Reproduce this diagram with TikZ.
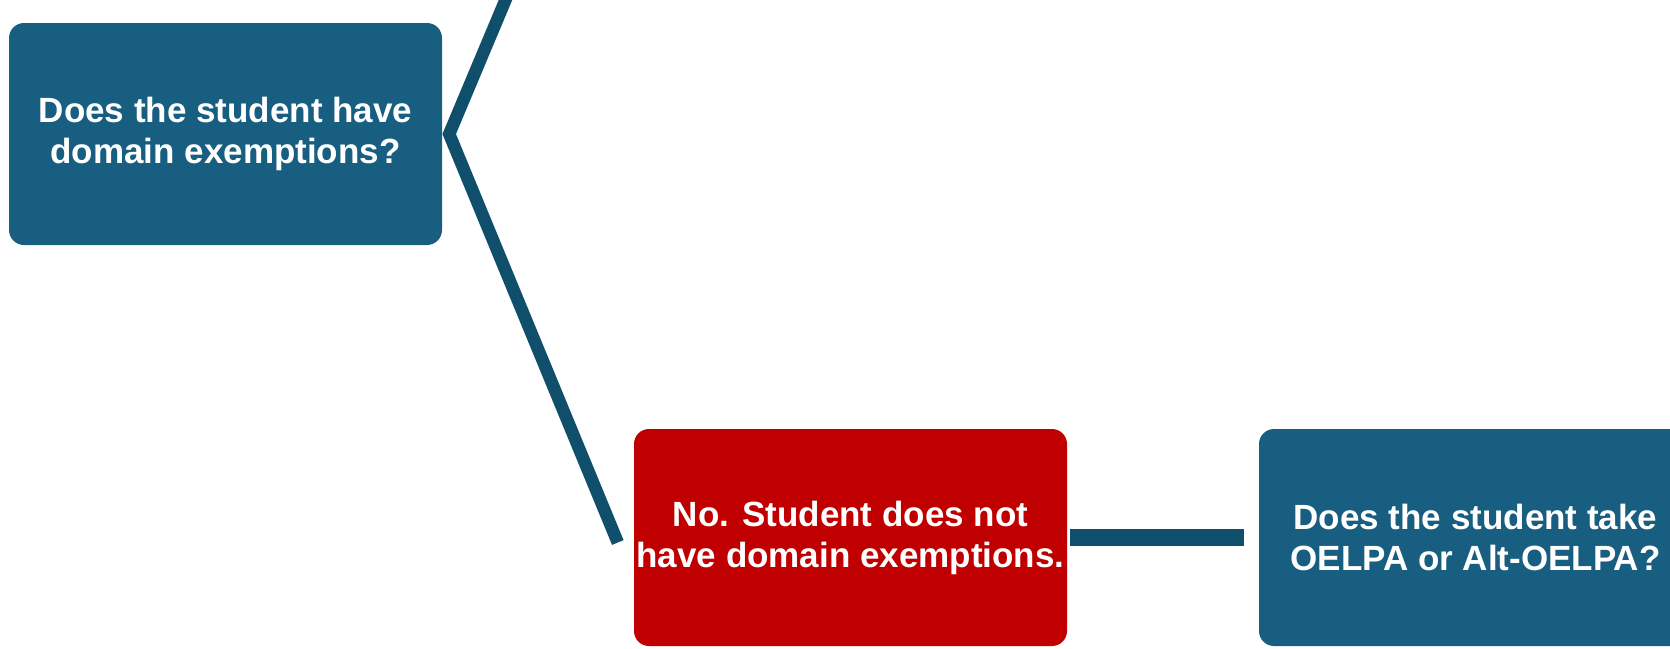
\documentclass[tikz,border=0pt]{standalone}
\usepackage{fontspec}
\setmainfont{Liberation Sans}
\usepackage{xcolor}
\usepackage{tikz}
\usetikzlibrary{calc,positioning}
\definecolor{qblue}{HTML}{185E80}
\definecolor{noRed}{HTML}{C00000}
\definecolor{linkblue}{HTML}{0F4F6C}
\tikzset{
  box/.style={rounded corners=15pt,align=center,text=white,inner sep=0pt,
              minimum width=433pt,font=\fontsize{35}{41}\selectfont\bfseries},
  question/.style={box,fill=qblue},
  answer/.style={box,fill=noRed},
  link/.style={draw=linkblue,line width=12.5pt,line join=miter},
  bar/.style={draw=linkblue,line width=17pt}
}
\begin{document}
\begin{tikzpicture}[x=1pt,y=-1pt]
  \useasboundingbox (0,0) rectangle (1670,648);
  \node[question,minimum height=222pt] (q1) at (225.5,134) {Does the student have\\domain exemptions?};
  \node[answer,minimum height=217pt] (no) at (850.5,537.5) {No. Student does not\\have domain exemptions.};
  \node[question,minimum height=217pt] (take) at (1475.5,537.5) {Does the student take\\OELPA or Alt-OELPA?};
  \coordinate (up) at (508,-6);
  \draw[link] (up) -- ([xshift=7pt]q1.east) -- ([xshift=-16pt,yshift=-5pt]no.west);
  \draw[bar] ([xshift=3pt]no.east) -- ([xshift=-15pt]take.west);
\end{tikzpicture}
\end{document}
